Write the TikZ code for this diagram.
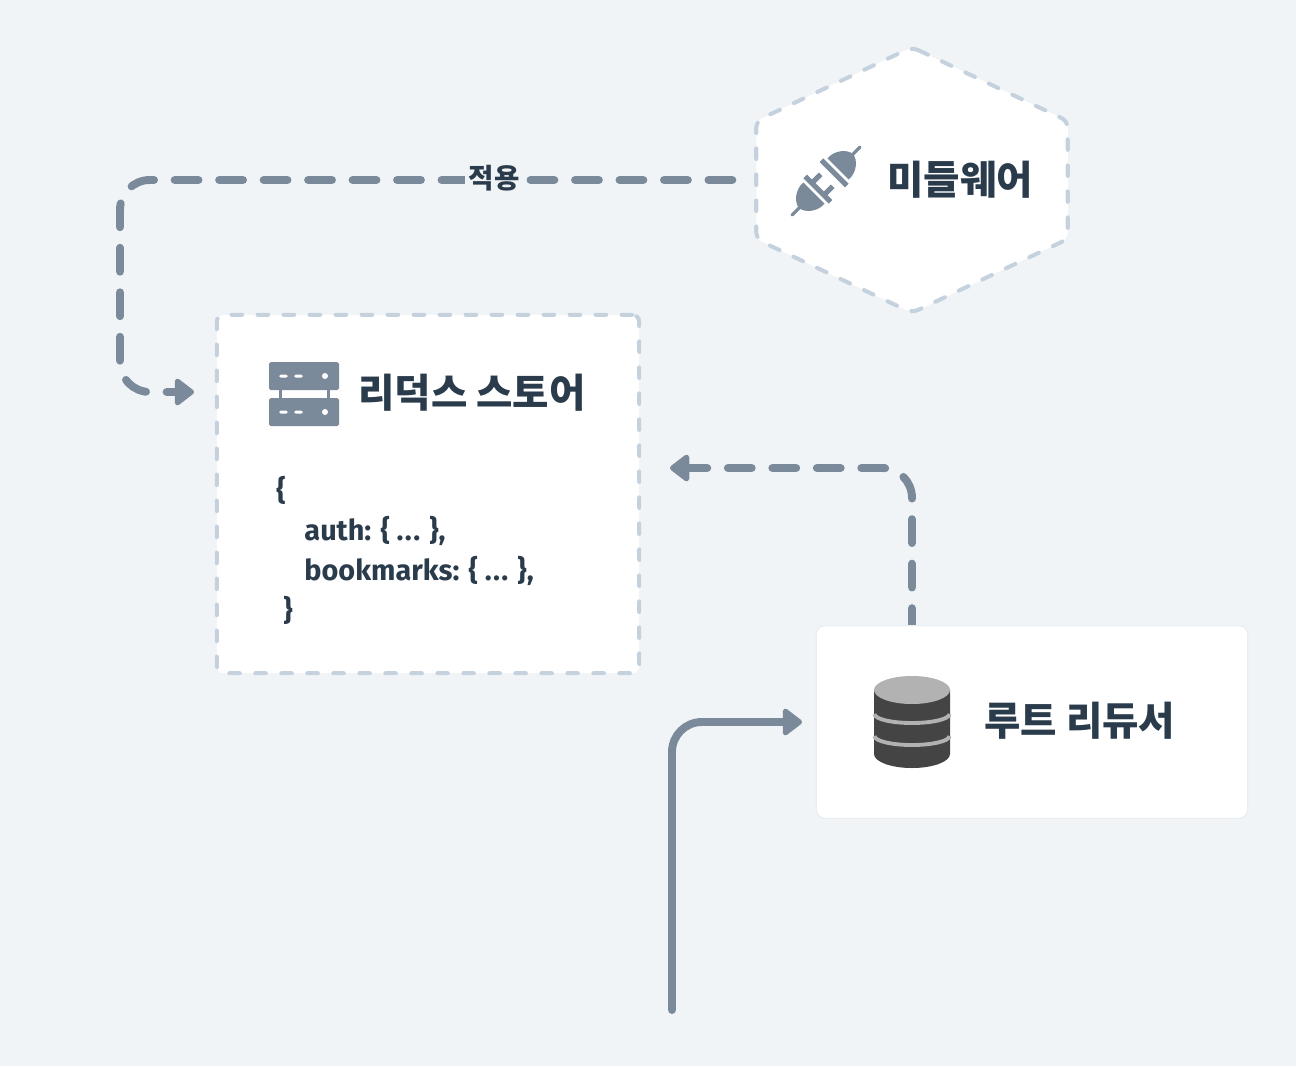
\documentclass[tikz,border=0pt]{standalone}
\usepackage{fontspec}
\setmainfont{Noto Sans CJK KR}
\newfontfamily\codefont{Fira Sans}
\usepackage{tikz}
\usetikzlibrary{arrows.meta}
\newcommand{\codedots}{.\kern0.8pt.\kern0.8pt.}
\tikzset{
    headnode/.style={inner sep=0,text=ink,font=\fontsize{22.5}{24}\selectfont\bfseries},
    smallnode/.style={inner sep=2pt,fill=page,text=ink,font=\fontsize{15.7}{18}\selectfont\bfseries},
    codenode/.style={inner sep=0,align=left,text=ink,font=\fontsize{16.4}{22.68pt}\selectfont\codefont\bfseries},
    storebox/.style={draw=edge,fill=white,line width=2.3pt,line cap=round,dash pattern=on 6pt off 8.8pt,rounded corners=4pt,minimum width=240.4pt,minimum height=204pt,inner sep=0},
    reducerbox/.style={draw=shade,fill=white,line width=0.6pt,rounded corners=5pt,minimum width=245.6pt,minimum height=109.6pt,inner sep=0},
    hexbox/.style={draw=none,minimum width=176.9pt,minimum height=150.8pt,inner sep=0},
    flowline/.style={draw=slate,line width=4.5pt,line cap=round,rounded corners=17pt,-{Triangle[length=12pt,width=17.5pt,round]}},
    flowdash/.style={flowline,dash pattern=on 13.6pt off 11.72pt}
}
\begin{document}
\begin{tikzpicture}[x=0.02cm,y=0.02cm]
    \definecolor{page}{HTML}{F0F4F7}
    \definecolor{ink}{HTML}{2A3B4B}
    \definecolor{slate}{HTML}{7B8A9A}
    \definecolor{edge}{HTML}{C5D2DE}
    \definecolor{shade}{HTML}{E9EEF2}
    \definecolor{drumdark}{HTML}{444444}
    \definecolor{drumlight}{HTML}{B2B2B2}
    \fill [page] (0,0) rectangle (1296,-1066);
    \useasboundingbox (0,0) rectangle (1296,-1066);
    % boxes
    \node (hexarea) [hexbox] at (912,-180) {};
    \node (store) [storebox] at (428,-494) {};
    \coordinate (storein) at (194,-392);
    \coordinate (storeback) at (670,-468);
    \coordinate (reducerout) at (912,-632);
    \coordinate (reducerin) at (802,-722);
    \coordinate (actionstart) at (672,-1010);
    \draw [draw=edge,fill=white,line width=2.3pt,line cap=round,dash pattern=on 6pt off 8.8pt,rounded corners=4pt]
        (hexarea.north) -- ([yshift=-42pt]hexarea.north east) -- ([yshift=42pt]hexarea.south east)
        -- (hexarea.south) -- ([yshift=42pt]hexarea.south west) -- ([yshift=-42pt]hexarea.north west) -- cycle;
    % connectors
    \draw [flowdash,shorten <=13.6pt] (hexarea.west) -- (120,-180) -- (120,-392) -- (storein);
    \draw [flowdash] (reducerout) -- (912,-468) -- (storeback);
    \draw [flowline] (actionstart) -- (672,-722) -- (reducerin);
    \node (reducer) [reducerbox] at (1032,-722) {};
    % labels
    \node (apply) [smallnode] at (494,-178) {적용};
    \node (hexlabel) [headnode,anchor=west] at (887,-180) {미들웨어};
    \node (storelabel) [headnode,anchor=west] at (358,-393) {리덕스 스토어};
    \node (reducerlabel) [headnode,anchor=west] at (984,-721) {루트 리듀서};
    \node (statecode) [codenode,anchor=north west] at (276,-476) {\{\\\hspace{16pt}auth: \{ \codedots{} \},\\\hspace{16pt}bookmarks: \{ \codedots{} \},\\\hspace{4pt}\}};
    % plug icon
    \begin{scope}[shift={(826,-181)},rotate=45]
        \fill [slate] (17,-15) .. controls (28,-16) and (38,-7) .. (38,0) .. controls (38,7) and (28,16) .. (17,15) -- cycle;
        \fill [slate] (9,-18) rectangle (14,18);
        \draw [slate,line width=1.8pt,line cap=round] (36,0) -- (48,0);
        \fill [slate] (-17,-15) .. controls (-28,-16) and (-38,-7) .. (-38,0) .. controls (-38,7) and (-28,16) .. (-17,15) -- cycle;
        \fill [slate] (-14,-18) rectangle (-9,18);
        \fill [slate] (-10,-11) rectangle (1,-6);
        \fill [slate] (-10,6) rectangle (1,11);
        \draw [slate,line width=1.8pt,line cap=round] (-36,0) -- (-48,0);
    \end{scope}
    % server icon
    \foreach \top in {-362,-398}{
        \fill [slate,rounded corners=1pt] (269,\top) rectangle (339,\top-28);
        \fill [white,rounded corners=1pt] (279,\top-12.5) rectangle (288,\top-15.5);
        \fill [white,rounded corners=1pt] (294,\top-12.5) rectangle (303,\top-15.5);
        \fill [white] (325,\top-14) circle (3);
    }
    \fill [slate] (279,-389) rectangle (282,-398);
    \fill [slate] (327,-389) rectangle (330,-398);
    % drum icon
    \fill [drumdark] (874,-690) -- (874,-754) arc [start angle=180,end angle=360,x radius=38,y radius=14] -- (950,-690) -- cycle;
    \foreach \ring in {-714,-736}{
        \draw [drumlight,line width=2.2pt] (874.5,\ring) arc [start angle=180,end angle=360,x radius=37.5,y radius=9];
    }
    \fill [drumlight] (912,-690) ellipse [x radius=38,y radius=14];
\end{tikzpicture}
\end{document}
